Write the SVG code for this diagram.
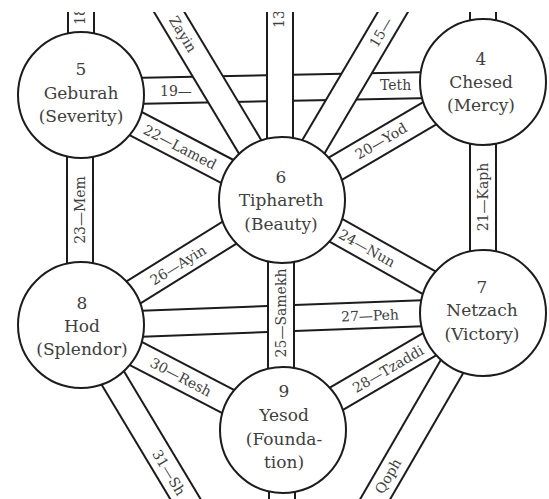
<svg xmlns="http://www.w3.org/2000/svg" width="549" height="499" viewBox="0 0 549 499">
<style>
.o{stroke:#1c1c1c;stroke-width:28;fill:none}
.i{stroke:#fff;stroke-width:24;fill:none}
.n{fill:#fff;stroke:#1c1c1c;stroke-width:2}
.t{font-family:"DejaVu Serif","Liberation Serif",serif;font-size:17px;fill:#404040;text-anchor:middle}
.l{font-family:"DejaVu Serif","Liberation Serif",serif;font-size:14px;fill:#404040;text-anchor:middle;dominant-baseline:central}
.s{text-anchor:start}
</style>
<rect width="549" height="499" fill="#fff"/>
<g id="connectors">
  <g id="p19"><line class="o" x1="81" y1="92" x2="483" y2="84"/><line class="i" x1="81" y1="92" x2="483" y2="84"/>
    <text class="l s" x="160" y="91">19—</text><text class="l s" x="380" y="85">Teth</text></g>
  <g id="p27"><line class="o" x1="81" y1="326" x2="483" y2="311"/><line class="i" x1="81" y1="326" x2="483" y2="311"/>
    <text class="l" transform="translate(370,315.5) rotate(-2)">27—Peh</text></g>
  <g id="p22"><line class="o" x1="81" y1="95" x2="282" y2="200"/><line class="i" x1="81" y1="95" x2="282" y2="200"/>
    <text class="l" transform="translate(180,147) rotate(27.6)">22—Lamed</text></g>
  <g id="p20"><line class="o" x1="483" y1="82" x2="282" y2="200"/><line class="i" x1="483" y1="82" x2="282" y2="200"/>
    <text class="l" transform="translate(381,141) rotate(-30.4)">20—Yod</text></g>
  <g id="p26"><line class="o" x1="81" y1="325" x2="282" y2="200"/><line class="i" x1="81" y1="325" x2="282" y2="200"/>
    <text class="l" transform="translate(178,265) rotate(-31.9)">26—Ayin</text></g>
  <g id="p24"><line class="o" x1="282" y1="200" x2="483" y2="313"/><line class="i" x1="282" y1="200" x2="483" y2="313"/>
    <text class="l" transform="translate(367,248) rotate(29.3)">24—Nun</text></g>
  <g id="p30"><line class="o" x1="81" y1="325" x2="283" y2="430"/><line class="i" x1="81" y1="325" x2="283" y2="430"/>
    <text class="l" transform="translate(181,377) rotate(27.5)">30—Resh</text></g>
  <g id="p28"><line class="o" x1="483" y1="313" x2="283" y2="430"/><line class="i" x1="483" y1="313" x2="283" y2="430"/>
    <text class="l" transform="translate(388,369) rotate(-30.3)">28—Tzaddi</text></g>
  <g id="p31"><line class="o" x1="81" y1="325" x2="282" y2="660"/><line class="i" x1="81" y1="325" x2="282" y2="660"/>
    <text class="l s" transform="translate(156,451) rotate(59)">31—Sh</text></g>
  <g id="p29"><line class="o" x1="483" y1="313" x2="282" y2="660"/><line class="i" x1="483" y1="313" x2="282" y2="660"/>
    <text class="l" transform="translate(388,476) rotate(-59.9)">Qoph</text></g>
  <g id="p17"><line class="o" x1="162" y1="0" x2="282" y2="200"/><line class="i" x1="162" y1="0" x2="282" y2="200"/>
    <text class="l" transform="translate(183,34) rotate(59)">Zayin</text></g>
  <g id="p15"><line class="o" x1="400" y1="0" x2="282" y2="200"/><line class="i" x1="400" y1="0" x2="282" y2="200"/>
    <text class="l s" transform="translate(373,46) rotate(-59.5)">15—</text></g>
  <g id="p13"><line class="o" x1="280" y1="0" x2="280" y2="200"/><line class="i" x1="280" y1="0" x2="280" y2="200"/>
    <text class="l s" transform="translate(279,28) rotate(-90)">13</text></g>
  <g id="p18"><line class="o" x1="81" y1="0" x2="81" y2="95"/><line class="i" x1="81" y1="0" x2="81" y2="95"/>
    <text class="l s" transform="translate(80,25) rotate(-90)">18</text></g>
  <g id="p16"><line class="o" x1="483" y1="0" x2="483" y2="82"/><line class="i" x1="483" y1="0" x2="483" y2="82"/></g>
  <g id="p23"><line class="o" x1="80" y1="95" x2="80" y2="325"/><line class="i" x1="80" y1="95" x2="80" y2="325"/>
    <text class="l" transform="translate(80,210) rotate(-90)">23—Mem</text></g>
  <g id="p21"><line class="o" x1="483" y1="82" x2="483" y2="313"/><line class="i" x1="483" y1="82" x2="483" y2="313"/>
    <text class="l" transform="translate(483,197) rotate(-90)">21—Kaph</text></g>
  <g id="p25"><line class="o" x1="281" y1="200" x2="281" y2="430"/><line class="i" x1="281" y1="200" x2="281" y2="430"/>
    <text class="l" transform="translate(281,313) rotate(-90)">25—Samekh</text></g>
  <g id="p32"><line class="o" x1="282" y1="430" x2="282" y2="520"/><line class="i" x1="282" y1="430" x2="282" y2="520"/></g>
</g>
<g id="geburah"><circle class="n" cx="81" cy="95" r="63"/>
  <text class="t" x="81" y="75">5</text><text class="t" x="81" y="99">Geburah</text><text class="t" x="81" y="122">(Severity)</text></g>
<g id="chesed"><circle class="n" cx="483" cy="82" r="63"/>
  <text class="t" x="481" y="65">4</text><text class="t" x="481" y="88">Chesed</text><text class="t" x="481" y="111">(Mercy)</text></g>
<g id="tiphareth"><circle class="n" cx="282" cy="200" r="63"/>
  <text class="t" x="281" y="183">6</text><text class="t" x="281" y="206">Tiphareth</text><text class="t" x="281" y="230">(Beauty)</text></g>
<g id="hod"><circle class="n" cx="81" cy="325" r="63"/>
  <text class="t" x="82" y="309">8</text><text class="t" x="82" y="332">Hod</text><text class="t" x="82" y="355">(Splendor)</text></g>
<g id="netzach"><circle class="n" cx="483" cy="313" r="63"/>
  <text class="t" x="482" y="293">7</text><text class="t" x="482" y="316">Netzach</text><text class="t" x="482" y="340">(Victory)</text></g>
<g id="yesod"><circle class="n" cx="283" cy="430" r="63"/>
  <text class="t" x="284" y="397">9</text><text class="t" x="284" y="421">Yesod</text><text class="t" x="284" y="445">(Founda-</text><text class="t" x="284" y="468">tion)</text></g>
<rect x="0" y="0" width="549" height="12" fill="#fff"/>
</svg>
